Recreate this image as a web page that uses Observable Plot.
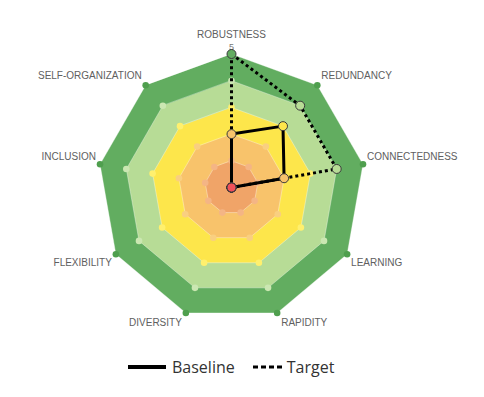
<!DOCTYPE html>
<html><head><meta charset="utf-8">
<script src="https://cdn.jsdelivr.net/npm/d3@7"></script>
<script src="https://cdn.jsdelivr.net/npm/@observablehq/plot@0.6"></script>
<style>
body{margin:0;background:#fff;font-family:"Open Sans",sans-serif}
#legend{height:44px;display:flex;align-items:center;padding-left:128px;font-size:16px;color:#333}
#legend .item{display:flex;align-items:center;margin-right:18px}
#legend svg{margin-right:4px}
</style>
</head><body><div id="chart"></div>
<div id="legend">
  <span class="item"><svg width="40" height="6"><line x1="0" y1="3" x2="38" y2="3" stroke="#000" stroke-width="4"/></svg>Baseline</span>
  <span class="item"><svg width="30" height="6"><line x1="0" y1="3" x2="30" y2="3" stroke="#000" stroke-width="3" stroke-dasharray="5,3"/></svg>Target</span>
</div>
<script>
const axes = ["ROBUSTNESS","REDUNDANCY","CONNECTEDNESS","LEARNING","RAPIDITY","DIVERSITY","FLEXIBILITY","INCLUSION","SELF-ORGANIZATION"];
const levels = [1, 2, 3, 4, 5];
const levelColors = ["#f0a468", "#f8c36b", "#fde64b", "#b7dc96", "#62ad60"];
const levelDotColors = ["#f4b585", "#f9cf80", "#fff06e", "#cbe7b2", "#4f9f4e"];
const valueColors = ["#f0505a", "#f0a468", "#f8c36b", "#fde64b", "#b7dc96", "#62ad60"];
const baseline = [2, 3, 2, 0, 0, 0, 0, 0, 0];
const target = [5, 4, 4, 0, 0, 0, 0, 0, 0];
const tickLabel = "5";

const W = 484, H = 345, CX = 231, CY = 187, U = 26.7;
const n = axes.length;
const ang = i => 2 * Math.PI * i / n;
const pt = (v, i) => ({x: v * Math.sin(ang(i)), y: v * Math.cos(ang(i)), v, i});

const ring = L => axes.map((_, i) => pt(L, i));
const series = vals => vals.map((v, i) => pt(v, i));

const bandMarks = levels.slice().reverse().map(L =>
  Plot.line(ring(L), {x: "x", y: "y", curve: "linear-closed", fill: levelColors[L - 1],
    stroke: "#ffffff", strokeOpacity: 0.35, strokeWidth: 1})
);
const ringDots = levels.map(L =>
  Plot.dot(ring(L), {x: "x", y: "y", r: 3.3, fill: levelDotColors[L - 1]})
);

// labels
const labelData = axes.map((name, i) => {
  const a = ang(i), s = Math.sin(a), c = Math.cos(a);
  const base = pt(5, i);
  let dx = Math.abs(s) < 1e-6 ? 0 : Math.sign(s) * 4;
  let dy = i === 0 ? -19 : -Math.sign(c) * (7 + 3 * Math.abs(c));
  return {name, x: base.x + dx / U, y: base.y - dy / U,
    anchor: Math.abs(s) < 1e-6 ? "middle" : (s > 0 ? "start" : "end")};
});
const labelMarks = ["start", "middle", "end"].map(an =>
  Plot.text(labelData.filter(d => d.anchor === an), {x: "x", y: "y", text: "name",
    textAnchor: an, fill: "#606060", fontSize: 10})
);

const targetPts = series(target);
const basePts = series(baseline);

const chart = Plot.plot({
  width: W, height: H,
  marginTop: 0, marginBottom: 0, marginLeft: 0, marginRight: 0,
  x: {domain: [-CX / U, (W - CX) / U], axis: null},
  y: {domain: [-(H - CY) / U, CY / U], axis: null},
  color: {type: "identity"},
  style: {fontFamily: "'Liberation Sans', Arial, sans-serif", background: "#fff"},
  marks: [
    ...bandMarks,
    ...ringDots,
    Plot.text([pt(5, 0)], {x: "x", y: "y", text: () => tickLabel, dy: -7, fill: "#777", fontSize: 9}),
    ...labelMarks,
    Plot.line(targetPts, {x: "x", y: "y", curve: "linear-closed", stroke: "#000", strokeWidth: 3,
      strokeDasharray: "3,3", strokeLinecap: "butt", strokeLinejoin: "miter"}),
    Plot.line(basePts, {x: "x", y: "y", curve: "linear-closed", stroke: "#000", strokeWidth: 3,
      strokeLinecap: "butt", strokeLinejoin: "miter"}),
    Plot.dot(targetPts, {x: "x", y: "y", r: 4.5, fill: d => valueColors[d.v], stroke: "#3a3a3a", strokeWidth: 1}),
    Plot.dot(basePts, {x: "x", y: "y", r: 4.5, fill: d => valueColors[d.v], stroke: "#3a3a3a", strokeWidth: 1})
  ]
});
document.getElementById("chart").appendChild(chart);
</script>
</body></html>
